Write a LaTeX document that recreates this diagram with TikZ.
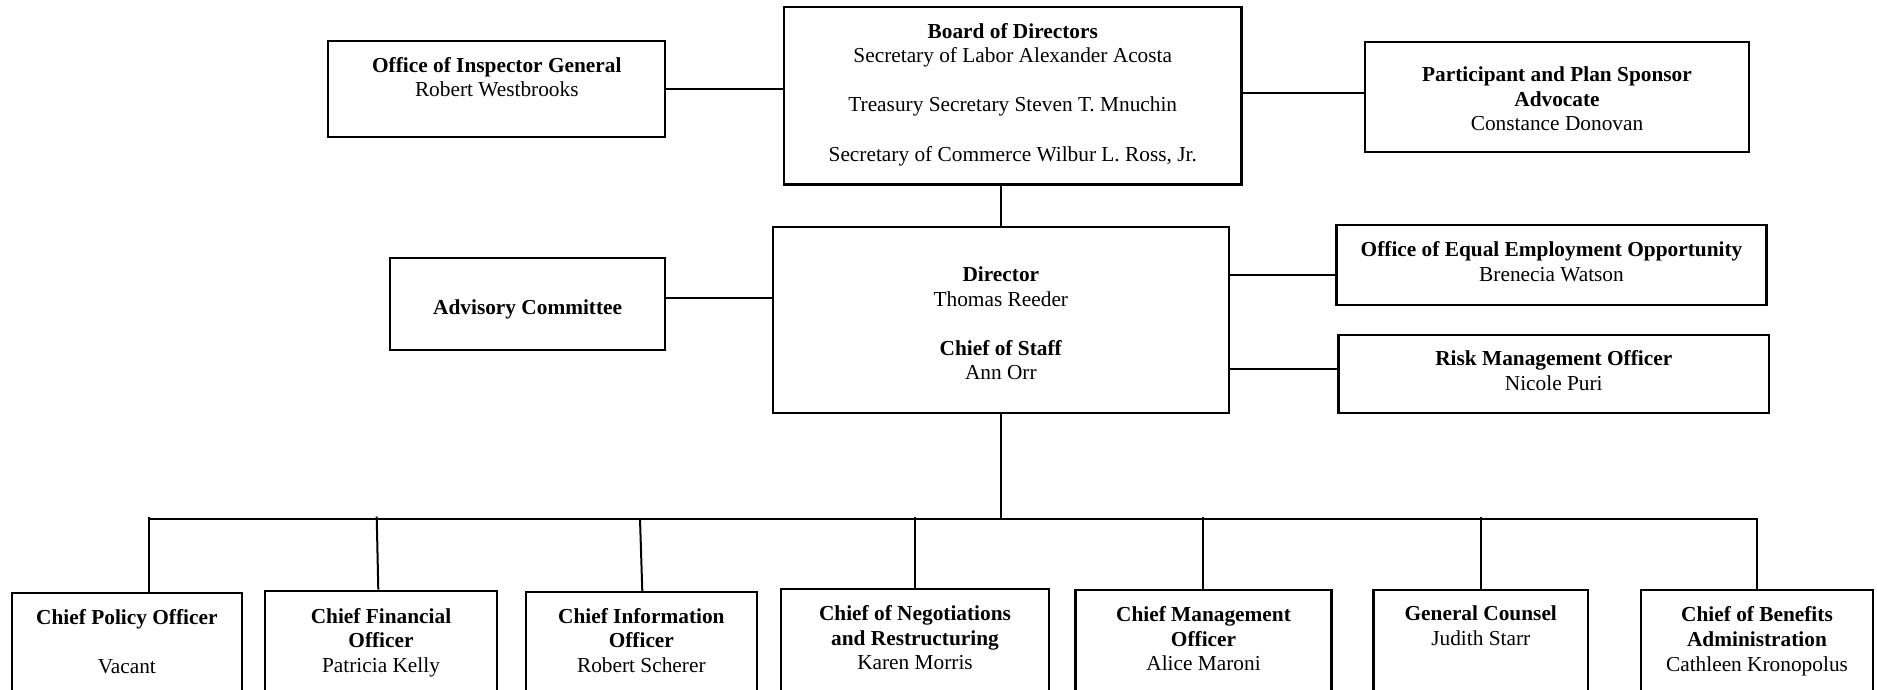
\documentclass[tikz,border=0pt]{standalone}
\usepackage{fontspec}
\setmainfont{Liberation Serif}
\begin{document}
\begin{tikzpicture}[x=1pt,y=-1pt,
  box/.style={draw=black, line width=2.1pt, inner sep=0pt, fill=white},
  txt/.style={align=center, anchor=north, inner sep=0pt, font=\fontsize{21.33pt}{24.6pt}\selectfont},
  conn/.style={draw=black, line width=2pt}]
\path[use as bounding box, clip] (0,0) rectangle (1877,690);
\fill[white] (0,0) rectangle (1877,690);

% top row
\node[box, minimum width=457.5pt, minimum height=177.2pt] (board) at (1012.75,95.9) {};
\node[box, minimum width=337pt, minimum height=96pt] (oig) at (496.8,88.7) {};
\node[box, minimum width=384pt, minimum height=110pt] (psa) at (1557,97) {};
% middle row
\node[box, minimum width=456.3pt, minimum height=186pt] (dir) at (1000.85,319.7) {};
\node[box, minimum width=275.3pt, minimum height=91.7pt] (adv) at (527.65,304.15) {};
\node[box, minimum width=430pt, minimum height=80pt] (eeo) at (1551.5,265) {};
\node[box, minimum width=430.5pt, minimum height=78.3pt] (risk) at (1553.75,374.15) {};
% bottom row
\node[box, minimum width=230.3pt, minimum height=137.3pt] (cpo) at (126.85,661.35) {};
\node[box, minimum width=232pt, minimum height=139.3pt] (cfo) at (381,660.35) {};
\node[box, minimum width=231.3pt, minimum height=138pt] (cio) at (641.35,661) {};
\node[box, minimum width=268pt, minimum height=141pt] (cnr) at (915,659.5) {};
\node[box, minimum width=256pt, minimum height=140pt] (cmo) at (1203.5,660) {};
\node[box, minimum width=214.5pt, minimum height=140pt] (gc) at (1480.75,660) {};
\node[box, minimum width=232pt, minimum height=140pt] (cba) at (1757,660) {};

% texts
\node[txt] (board-t) at (1012.75,20.7) {\strut\textbf{Board of Directors}\\Secretary of Labor Alexander Acosta\\[24.6pt]Treasury Secretary Steven T. Mnuchin\\[24.6pt]Secretary of Commerce Wilbur L. Ross, Jr.};
\node[txt] (oig-t) at (496.8,54.7) {\strut\textbf{Office of Inspector General}\\Robert Westbrooks};
\node[txt] (psa-t) at (1557,64) {\strut\textbf{Participant and Plan Sponsor}\\\textbf{Advocate}\\Constance Donovan};
\node[txt] (dir-t) at (1000.85,264) {\strut\textbf{Director}\\Thomas Reeder\\[24.6pt]\textbf{Chief of Staff}\\Ann Orr};
\node[txt] (adv-t) at (527.65,297.3) {\strut\textbf{Advisory Committee}};
\node[txt] (eeo-t) at (1551.5,239) {\strut\textbf{Office of Equal Employment Opportunity}\\Brenecia Watson};
\node[txt] (risk-t) at (1553.75,348) {\strut\textbf{Risk Management Officer}\\Nicole Puri};
\node[txt] (cpo-t) at (126.85,607.3) {\strut\textbf{Chief Policy Officer}\\[24.6pt]Vacant};
\node[txt] (cfo-t) at (381,605.7) {\strut\textbf{Chief Financial}\\\textbf{Officer}\\Patricia Kelly};
\node[txt] (cio-t) at (641.35,605.7) {\strut\textbf{Chief Information}\\\textbf{Officer}\\Robert Scherer};
\node[txt] (cnr-t) at (915,603.3) {\strut\textbf{Chief of Negotiations}\\\textbf{and Restructuring}\\Karen Morris};
\node[txt] (cmo-t) at (1203.5,604) {\strut\textbf{Chief Management}\\\textbf{Officer}\\Alice Maroni};
\node[txt] (gc-t) at (1480.75,603.3) {\strut\textbf{General Counsel}\\Judith Starr};
\node[txt] (cba-t) at (1757,604.5) {\strut\textbf{Chief of Benefits}\\\textbf{Administration}\\Cathleen Kronopolus};

% connectors top/middle
\draw[conn] (oig.east) -- (oig.east -| board.west);
\draw[conn] ([yshift=4.3pt]psa.west) -- ([yshift=4.3pt]psa.west -| board.east);
\draw[conn] (dir.north |- board.south) -- (dir.north);
\draw[conn] (adv.east |- 0,297.7) -- (dir.west |- 0,297.7);
\draw[conn] (dir.east |- 0,275) -- (eeo.west |- 0,275);
\draw[conn] (dir.east |- 0,369) -- (risk.west |- 0,369);

% bus
\coordinate (busL) at (149.3,519);
\coordinate (busR) at (1757,519);
\draw[conn] (busL) -- (busR);
\draw[conn] (dir.south) -- (dir.south |- busL);

\coordinate (d1) at (149.3,516.5);
\coordinate (d2) at (376.7,516.5);
\coordinate (d3) at (640,519);
\coordinate (d4) at (915,516.5);
\coordinate (d5) at (1203,516.5);
\coordinate (d6) at (1481,516.5);
\coordinate (d7) at (1757,518);
\draw[conn] (d1) -- (d1 |- cpo.north);
\draw[conn] (d2) -- ([xshift=1.6pt]d2 |- cfo.north);
\draw[conn] (d3) -- ([xshift=2.3pt]d3 |- cio.north);
\draw[conn] (d4) -- (d4 |- cnr.north);
\draw[conn] (d5) -- (d5 |- cmo.north);
\draw[conn] (d6) -- (d6 |- gc.north);
\draw[conn] (d7) -- (d7 |- cba.north);
\end{tikzpicture}
\end{document}
